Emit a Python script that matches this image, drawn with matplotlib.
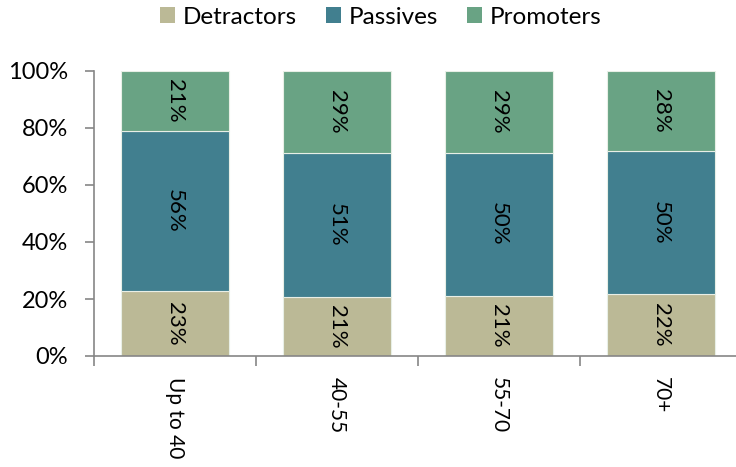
import matplotlib
matplotlib.use("Agg")
import matplotlib.pyplot as plt
from matplotlib.patches import Patch
import numpy as np

categories = ["Up to 40", "40-55", "55-70", "70+"]
detractors = [22.9, 20.8, 21.2, 21.8]
passives = [56.1, 50.6, 50.2, 50.1]
promoters = [21.0, 28.6, 28.6, 28.1]
series_names = ["Detractors", "Passives", "Promoters"]
colors = ["#BBB996", "#417F8F", "#69A384"]

plt.rcParams['font.family'] = ['Lato', 'DejaVu Sans']

fig = plt.figure(figsize=(7.36, 4.67), dpi=100)
ax = fig.add_axes([94 / 736, 1 - 356 / 467, 648 / 736, 285 / 467])

x = np.arange(len(categories))
bottom = np.zeros(len(categories))
for vals, c in zip([detractors, passives, promoters], colors):
    vals = np.array(vals)
    ax.bar(x, vals, width=0.667, bottom=bottom, color=c,
           edgecolor="#E8EFE6", linewidth=0.8)
    for xi, b, v in zip(x, bottom, vals):
        ax.text(xi, b + v / 2, f"{v:.0f}%", rotation=-90, ha="center",
                va="center", fontsize=16, color="black")
    bottom += vals

ax.set_xlim(-0.5, 3.5)
ax.set_ylim(0, 100)
ax.set_yticks([0, 20, 40, 60, 80, 100])
ax.set_yticklabels([f"{v}%" for v in [0, 20, 40, 60, 80, 100]], fontsize=17)
ax.set_xticks(np.arange(-0.5, 3.6, 1.0))
ax.set_xticklabels([])
ax.tick_params(axis="y", length=6.5, width=1.2, color="#868686", pad=12)
ax.tick_params(axis="x", length=7, width=1.2, color="#868686")
for xi, lab in zip(x, categories):
    ax.text(xi, -7.2, lab, rotation=-90, ha="center", va="top", fontsize=15,
            transform=ax.transData)

for s in ["top", "right"]:
    ax.spines[s].set_visible(False)
for s in ["left", "bottom"]:
    ax.spines[s].set_color("#868686")
    ax.spines[s].set_linewidth(1.2)

handles = [Patch(facecolor=c, edgecolor="none") for c in colors]
fig.legend(handles, series_names, loc="center", bbox_to_anchor=(381 / 736, 1 - 17 / 467),
           ncol=3, frameon=False, fontsize=17.5, handlelength=0.62, handleheight=0.66,
           handletextpad=0.31, columnspacing=1.2, borderpad=0.1)

fig.savefig("out.png", dpi=100)
